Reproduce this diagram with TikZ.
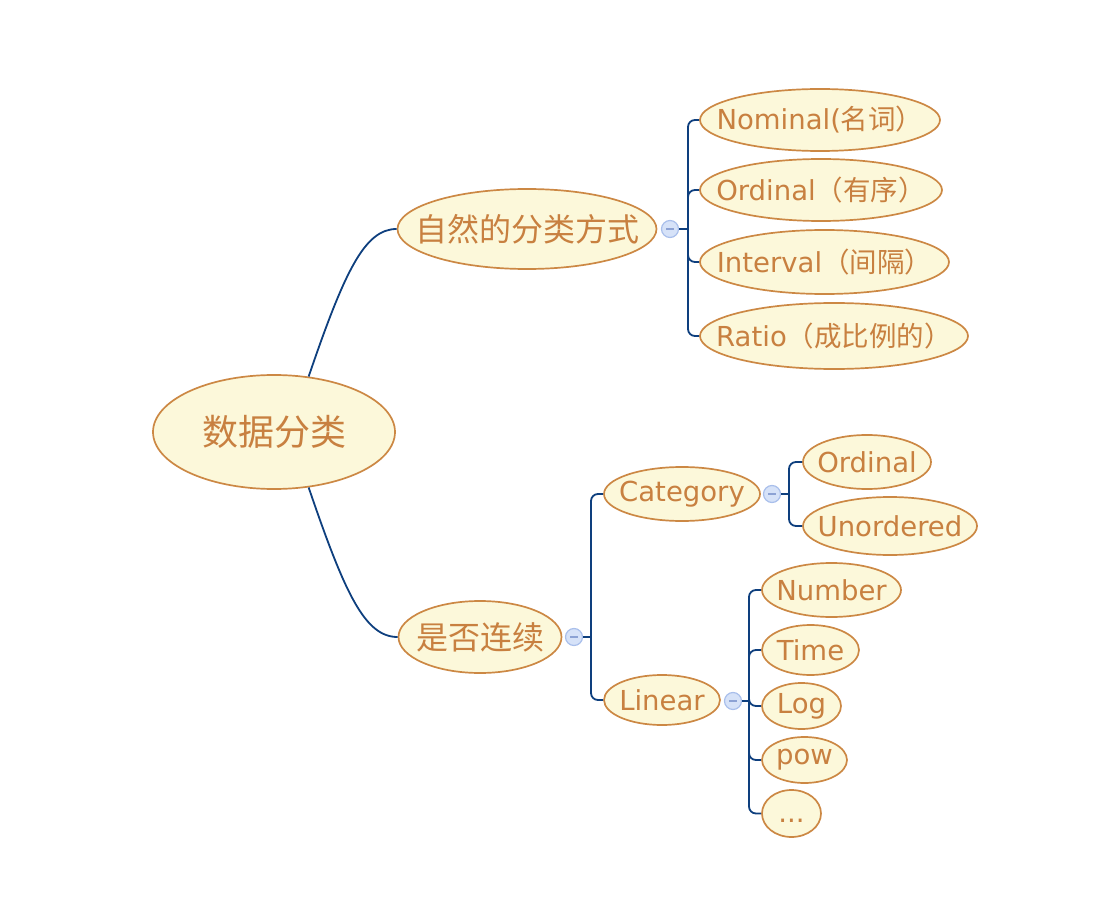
\documentclass[tikz,border=0pt]{standalone}
\usepackage{fontspec}
\setmainfont{DejaVu Sans}
\newfontfamily\cjk{Noto Sans CJK SC}
\usetikzlibrary{shapes.geometric}
\definecolor{fillc}{HTML}{FCF8DA}
\definecolor{bordc}{HTML}{CC8844}
\definecolor{txtc}{HTML}{C88040}
\definecolor{linkc}{HTML}{0E3F7E}
\definecolor{cfill}{HTML}{D6E2F8}
\definecolor{cbord}{HTML}{A9BFEB}
\definecolor{cminus}{HTML}{8CA2D4}
\begin{document}
\begin{tikzpicture}[x=1pt,y=-1pt,
  topic/.style={ellipse, draw=bordc, fill=fillc, line width=1.7pt, inner sep=0pt},
  txt/.style={text=txtc, inner sep=0pt, font=\fontsize{27.5}{30}\selectfont},
  txtbig/.style={text=txtc, inner sep=0pt, font=\fontsize{36}{40}\selectfont},
  txtmid/.style={text=txtc, inner sep=0pt, font=\fontsize{32}{36}\selectfont},
  conn/.style={draw=linkc, line width=1.8pt},
  bracket/.style={conn, rounded corners=7pt},
  toggle/.style={circle, draw=cbord, fill=cfill, line width=1.2pt, minimum size=17pt, inner sep=0pt,
    path picture={\draw[cminus, line width=1.2pt] ([xshift=-4pt]path picture bounding box.center) -- ([xshift=4pt]path picture bounding box.center);}}
]
\useasboundingbox (0,0) rectangle (1112,904);

% root
\node[topic, minimum width=242, minimum height=114] (root) at (274,432) {};
\node[txtbig] (roott) at (root) {\cjk 数据分类};

% level 1
\node[topic, minimum width=259, minimum height=80] (a) at (527,229) {};
\node[txtmid] (at) at (a) {\cjk 自然的分类方式};
\node[topic, minimum width=163, minimum height=72] (b) at (480,637) {};
\node[txtmid] (bt) at (b) {\cjk 是否连续};

% children of a
\node[topic, minimum width=240, minimum height=62] (a1) at (820,120) {};
\node[txt] (a1t) at (a1) {Nominal({\cjk 名词）}};
\node[topic, minimum width=242, minimum height=62] (a2) at (821,190) {};
\node[txt] (a2t) at (a2) {Ordinal{\cjk （有序）}};
\node[topic, minimum width=249, minimum height=64] (a3) at (824.5,262) {};
\node[txt] (a3t) at (a3) {Interval{\cjk （间隔）}};
\node[topic, minimum width=268, minimum height=66] (a4) at (834,336) {};
\node[txt] (a4t) at (a4) {Ratio{\cjk （成比例的）}};

% children of b
\node[topic, minimum width=156, minimum height=54] (b1) at (682,494) {};
\node[txt] (b1t) at (b1) {Category};
\node[topic, minimum width=116, minimum height=50] (b2) at (662,700) {};
\node[txt] (b2t) at (b2) {Linear};

% children of Category
\node[topic, minimum width=128, minimum height=54] (c1) at (867,462) {};
\node[txt] (c1t) at (c1) {Ordinal};
\node[topic, minimum width=174, minimum height=58] (c2) at (890,526) {};
\node[txt] (c2t) at (c2) {Unordered};

% children of Linear
\node[topic, minimum width=139, minimum height=54] (d1) at (831.5,590) {};
\node[txt] (d1t) at (d1) {Number};
\node[topic, minimum width=97, minimum height=50] (d2) at (810.5,650) {};
\node[txt] (d2t) at (d2) {Time};
\node[topic, minimum width=79, minimum height=46] (d3) at (801.5,706) {};
\node[txt] (d3t) at (d3) {Log};
\node[topic, minimum width=85, minimum height=46] (d4) at (804.5,760) {};
\node[txt] (d4t) at (d4) {pow};
\node[topic, minimum width=59, minimum height=47] (d5) at (791.5,813.5) {};
\node[txt, anchor=base] (d5t) at (791.5,822) {...};

% toggles
\node[toggle] (ta) at (670,229) {};
\node[toggle] (tb) at (574,637) {};
\node[toggle] (tc) at (772,494) {};
\node[toggle] (td) at (733,701) {};

% spine coordinates
\coordinate (sa) at (688,229);
\coordinate (sb) at (591,637);
\coordinate (sc) at (789,494);
\coordinate (sd) at (749,701);

% root curves
\draw[conn] (root.58) .. controls (345,270) and (365,229) .. (a.west);
\draw[conn] (root.-58) .. controls (345,594) and (365,637) .. (b.west);

% brackets
\draw[conn] (ta.east) -- (sa);
\foreach \n in {a1,a2,a3,a4} \draw[bracket] (sa) |- (\n.west);
\draw[conn] (tb.east) -- (sb);
\foreach \n in {b1,b2} \draw[bracket] (sb) |- (\n.west);
\draw[conn] (tc.east) -- (sc);
\foreach \n in {c1,c2} \draw[bracket] (sc) |- (\n.west);
\draw[conn] (td.east) -- (sd);
\foreach \n in {d1,d2,d3,d4,d5} \draw[bracket] (sd) |- (\n.west);
\end{tikzpicture}
\end{document}
